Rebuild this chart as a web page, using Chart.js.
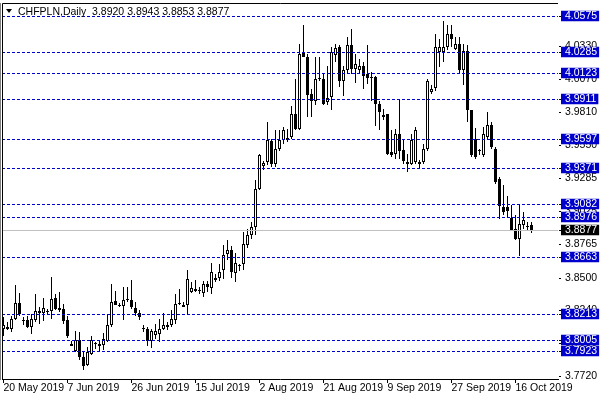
<!DOCTYPE html>
<html>
<head>
<meta charset="utf-8">
<script src="https://cdn.jsdelivr.net/npm/chart.js"></script>
<style>
html,body{margin:0;padding:0;background:#fff;}
#wrap{width:600px;height:400px;position:relative;}
</style>
</head>
<body>
<div id="wrap"><canvas id="c" width="600" height="400"></canvas></div>
<script>
// ---------------- data ----------------
const symbol = 'CHFPLN';
const period = 'Daily';
const xTickIndex = [0, 16, 32, 48, 64, 80, 96, 112, 128];
const xTickLabels = ['20 May 2019', '7 Jun 2019', '26 Jun 2019', '15 Jul 2019', '2 Aug 2019',
                     '21 Aug 2019', '9 Sep 2019', '27 Sep 2019', '16 Oct 2019'];

const open = [
  3.8095,3.8113,3.8095,3.8169,3.8301,3.8161,3.8161,3.8108,3.8166,3.8232,
  3.8219,3.8227,3.8235,3.8338,3.8261,3.8248,3.8161,3.7960,3.7918,3.8008,
  3.7870,3.7810,3.7892,3.7976,3.7976,3.7963,3.8002,3.8121,3.8314,3.8274,
  3.8272,3.8324,3.8324,3.8261,3.8222,3.8095,3.8095,3.8002,3.8042,3.8050,
  3.8095,3.8121,3.8121,3.8161,3.8293,3.8280,3.8280,3.8385,3.8412,3.8398,
  3.8380,3.8448,3.8420,3.8483,3.8496,3.8560,3.8689,3.8720,3.8535,3.8591,
  3.8610,3.8760,3.8834,3.8899,3.9203,3.9380,3.9414,3.9580,3.9401,3.9520,
  3.9593,3.9591,3.9612,3.9797,3.9678,4.0277,4.0250,3.9950,3.9902,4.0074,
  4.0074,3.9889,3.9928,4.0264,4.0324,4.0060,4.0140,4.0338,4.0153,4.0140,
  4.0179,4.0114,4.0092,4.0092,3.9876,3.9789,3.9797,3.9493,3.9480,3.9639,
  3.9512,3.9401,3.9401,3.9414,3.9401,3.9414,3.9520,3.9968,4.0003,4.0285,
  4.0285,4.0324,4.0430,4.0311,4.0351,4.0140,4.0292,3.9823,3.9599,3.9501,
  3.9467,3.9612,3.9712,3.9520,3.9282,3.9058,3.9058,3.8974,3.8887,3.8807,
  3.8913,3.8907,3.8920
];
const high = [
  3.8187,3.8148,3.8200,3.8443,3.8380,3.8187,3.8200,3.8214,3.8372,3.8266,
  3.8340,3.8253,3.8504,3.8372,3.8385,3.8293,3.8200,3.8002,3.8076,3.8068,
  3.7923,3.7950,3.8034,3.7994,3.8002,3.8060,3.8214,3.8446,3.8398,3.8301,
  3.8425,3.8425,3.8478,3.8306,3.8240,3.8126,3.8108,3.8095,3.8134,3.8174,
  3.8222,3.8148,3.8240,3.8372,3.8406,3.8306,3.8557,3.8464,3.8478,3.8425,
  3.8470,3.8470,3.8614,3.8530,3.8610,3.8762,3.8799,3.8754,3.8693,3.8610,
  3.8860,3.8887,3.8939,3.9269,3.9480,3.9427,3.9730,3.9599,3.9665,3.9665,
  3.9691,3.9678,3.9855,4.0074,4.0351,4.0496,4.0272,3.9995,4.0245,4.0245,
  4.0114,4.0179,4.0324,4.0351,4.0338,4.0179,4.0403,4.0470,4.0272,4.0232,
  4.0205,4.0345,4.0126,4.0100,3.9902,3.9836,3.9797,3.9665,3.9678,3.9916,
  3.9586,3.9480,3.9639,3.9696,3.9433,3.9559,4.0074,4.0021,4.0430,4.0391,
  4.0530,4.0496,4.0496,4.0403,4.0403,4.0351,4.0338,3.9823,3.9681,3.9520,
  3.9696,3.9810,3.9728,3.9533,3.9295,3.9235,3.9150,3.9071,3.8992,3.9071,
  3.9018,3.8939,3.8943
];
const low = [
  3.8034,3.8082,3.8068,3.8161,3.8200,3.8121,3.8103,3.8050,3.8148,3.8134,
  3.8153,3.8208,3.8174,3.8240,3.8227,3.8134,3.8024,3.7955,3.7910,3.7844,
  3.7765,3.7804,3.7884,3.7936,3.7923,3.7928,3.7989,3.8108,3.8280,3.8266,
  3.8166,3.8306,3.8253,3.8200,3.8166,3.8068,3.7955,3.7944,3.8011,3.7989,
  3.8082,3.8082,3.8108,3.8134,3.8280,3.8266,3.8214,3.8380,3.8385,3.8372,
  3.8345,3.8390,3.8372,3.8464,3.8472,3.8493,3.8636,3.8499,3.8464,3.8556,
  3.8564,3.8736,3.8807,3.8834,3.9190,3.9348,3.9388,3.9374,3.9374,3.9506,
  3.9559,3.9572,3.9599,3.9665,3.9665,4.0245,3.9770,3.9770,3.9863,4.0060,
  3.9863,3.9863,3.9823,4.0205,4.0007,3.9934,4.0114,4.0114,4.0039,4.0114,
  3.9995,4.0034,3.9902,3.9704,3.9665,3.9744,3.9467,3.9453,3.9441,3.9441,
  3.9401,3.9335,3.9388,3.9401,3.9362,3.9401,3.9506,3.9955,3.9981,4.0166,
  4.0205,4.0298,4.0324,4.0298,4.0114,4.0021,3.9730,3.9453,3.9441,3.9467,
  3.9453,3.9599,3.9520,3.9243,3.8966,3.8992,3.8978,3.8873,3.8794,3.8675,
  3.8887,3.8879,3.8853
];
const close = [
  3.8121,3.8095,3.8174,3.8301,3.8214,3.8158,3.8108,3.8169,3.8232,3.8222,
  3.8261,3.8229,3.8332,3.8253,3.8245,3.8156,3.8034,3.7976,3.8008,3.7870,
  3.7804,3.7910,3.8008,3.7973,3.7958,3.8016,3.8121,3.8306,3.8285,3.8272,
  3.8324,3.8327,3.8266,3.8219,3.8187,3.8098,3.8002,3.8074,3.8074,3.8095,
  3.8121,3.8108,3.8169,3.8293,3.8290,3.8266,3.8486,3.8419,3.8393,3.8404,
  3.8448,3.8425,3.8543,3.8499,3.8543,3.8680,3.8715,3.8543,3.8614,3.8595,
  3.8768,3.8839,3.8899,3.9203,3.9467,3.9406,3.9586,3.9401,3.9520,3.9593,
  3.9670,3.9607,3.9797,3.9678,4.0272,4.0250,3.9942,3.9902,4.0074,4.0070,
  3.9876,3.9924,4.0285,4.0319,4.0060,4.0140,4.0338,4.0153,4.0193,4.0179,
  4.0100,4.0082,4.0082,3.9876,3.9810,3.9770,3.9480,3.9472,3.9639,3.9506,
  3.9427,3.9414,3.9586,3.9665,3.9414,3.9520,4.0053,3.9995,4.0324,4.0324,
  4.0324,4.0430,4.0391,4.0351,4.0145,4.0292,3.9823,3.9467,3.9453,3.9505,
  3.9639,3.9712,3.9533,3.9255,3.9063,3.9018,3.9031,3.8873,3.8807,3.8926,
  3.8958,3.8902,3.8877
];

const levels = [4.0575, 4.0285, 4.0123, 3.9911, 3.9597, 3.9371, 3.9082, 3.8976, 3.8663, 3.8213, 3.8005, 3.7923];
const currentPrice = 3.8877;
const yTicks = [4.0330, 4.0070, 3.9810, 3.9550, 3.9285, 3.9025, 3.8765, 3.8500, 3.8240, 3.7980, 3.7720];

// ---------------- scale ranges ----------------
const xMin = -0.375, xMax = 138.625;
const yMin = 3.76974, yMax = 4.06740;

// ---------------- styles ----------------
const FONT = "'Liberation Sans Narrow', 'Liberation Sans', Arial, sans-serif";
const TITLE_FONT = "'Liberation Sans', Arial, sans-serif";
const LEVEL_COLOR = '#0000cc';
const CURRENT_COLOR = '#c0c0c0';

const frameAndTitle = {
  id: 'frameAndTitle',
  afterDraw(chart) {
    const ctx = chart.ctx, a = chart.chartArea;
    ctx.save();
    ctx.strokeStyle = '#000';
    ctx.lineWidth = 1;
    ctx.beginPath();
    ctx.moveTo(Math.floor(a.left) + 0.5, Math.round(a.bottom));
    ctx.lineTo(Math.floor(a.left) + 0.5, Math.floor(a.top) + 0.5);
    ctx.lineTo(Math.round(a.right), Math.floor(a.top) + 0.5);
    ctx.stroke();
    // small triangle marker
    ctx.fillStyle = '#000';
    ctx.beginPath();
    ctx.moveTo(a.left + 4, a.top + 6);
    ctx.lineTo(a.left + 10, a.top + 6);
    ctx.lineTo(a.left + 7, a.top + 10);
    ctx.closePath();
    ctx.fill();
    const last = close.length - 1;
    const txt = symbol + ',' + period + '  ' + open[last].toFixed(4) + ' ' + high[last].toFixed(4) + ' ' +
                low[last].toFixed(4) + ' ' + close[last].toFixed(4);
    ctx.font = "10.5px " + TITLE_FONT;
    ctx.textBaseline = 'alphabetic';
    ctx.textAlign = 'left';
    ctx.fillText(txt, a.left + 16, a.top + 12);
    ctx.restore();
  }
};

const wickData = high.map((h, i) => ({x: i, y: [low[i], h]}));
const bodyData = open.map((o, i) => ({x: i, y: [o, close[i]]}));
const bodyColors = open.map((o, i) => close[i] >= o ? '#ffffff' : '#000000');

const isLevel = v => levels.includes(v);
const isMarked = v => isLevel(v) || v === currentPrice;

new Chart(document.getElementById('c'), {
  type: 'bar',
  data: {
    datasets: [
      {
        type: 'bar',
        data: bodyData,
        backgroundColor: bodyColors,
        borderColor: '#000',
        borderWidth: 1,
        borderSkipped: false,
        barThickness: 3,
        minBarLength: 1,
        grouped: false,
        inflateAmount: 0,
        order: 1
      },
      {
        type: 'bar',
        data: wickData,
        backgroundColor: '#000',
        borderWidth: 0,
        barThickness: 1,
        grouped: false,
        inflateAmount: 0,
        order: 2
      }
    ]
  },
  options: {
    responsive: false,
    animation: false,
    devicePixelRatio: 1,
    events: [],
    layout: { padding: {left: 2, top: 3, right: 0, bottom: 0}, autoPadding: false },
    plugins: { legend: {display: false}, tooltip: {enabled: false}, title: {display: false} },
    scales: {
      x: {
        type: 'linear',
        position: 'bottom',
        min: xMin, max: xMax,
        offset: false,
        afterBuildTicks: s => { s.ticks = xTickIndex.map(v => ({value: v})); },
        afterFit: s => { s.height = 21; s.paddingLeft = 0; s.paddingRight = 0; },
        ticks: {
          autoSkip: false, maxRotation: 0, minRotation: 0, align: 'start', padding: 0,
          color: '#000',
          font: {family: FONT, size: 10.5, lineHeight: 1},
          callback: (v, i) => xTickLabels[i]
        },
        grid: { drawOnChartArea: false, drawTicks: true, tickLength: 4, tickColor: '#000', offset: false },
        border: { display: true, color: '#000', width: 1 }
      },
      y: {
        type: 'linear',
        position: 'right',
        min: yMin, max: yMax,
        alignToPixels: true,
        afterBuildTicks: s => { s.ticks = [...yTicks, ...levels, currentPrice].map(v => ({value: v})); },
        afterFit: s => { s.width = 42; s.paddingTop = 0; s.paddingBottom = 0; },
        ticks: {
          autoSkip: false, padding: 4, crossAlign: 'near',
          color: c => (c.tick && isMarked(c.tick.value)) ? '#ffffff' : '#000000',
          showLabelBackdrop: c => !!(c.tick && isMarked(c.tick.value)),
          backdropColor: c => (c.tick && c.tick.value === currentPrice) ? '#000000' : LEVEL_COLOR,
          backdropPadding: {left: 4, right: 2, top: 0, bottom: 0},
          font: {family: FONT, size: 10.5, lineHeight: 1},
          callback: v => Number(v).toFixed(4)
        },
        grid: {
          drawOnChartArea: true,
          z: 1,
          lineWidth: 1,
          color: c => {
            if (!c.tick) return 'rgba(0,0,0,0)';
            if (isLevel(c.tick.value)) return LEVEL_COLOR;
            if (c.tick.value === currentPrice) return CURRENT_COLOR;
            return 'rgba(0,0,0,0)';
          },
          drawTicks: true, tickLength: 3, tickColor: '#000'
        },
        border: {
          display: true, color: '#000', width: 1,
          dash: c => (c.tick && isLevel(c.tick.value)) ? [3, 2] : []
        }
      }
    }
  },
  plugins: [frameAndTitle]
});
</script>
</body>
</html>
